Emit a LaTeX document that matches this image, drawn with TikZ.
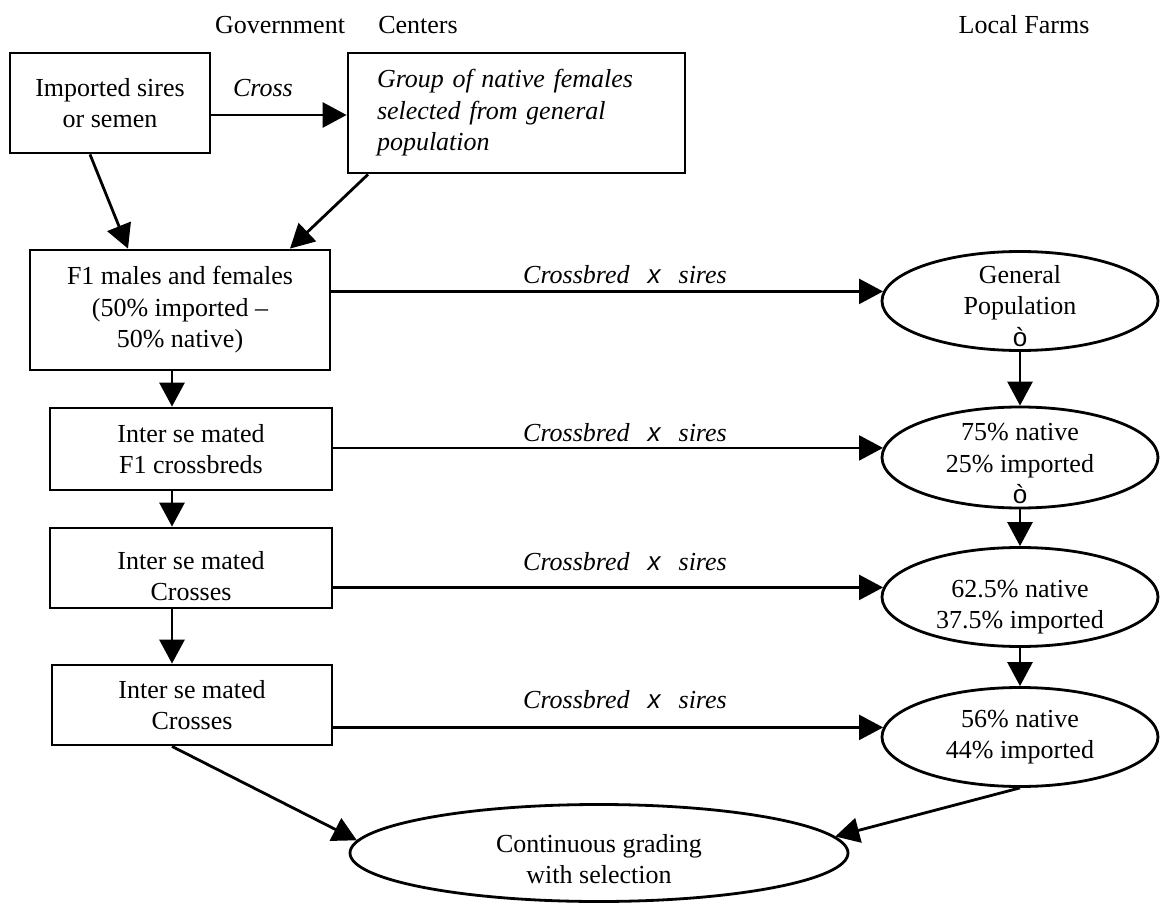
\documentclass[tikz,border=0pt]{standalone}
\usepackage{fontspec}
\setmainfont{Liberation Serif}
\setsansfont{Liberation Sans}
\usetikzlibrary{arrows.meta,shapes.geometric}
\begin{document}
\begin{tikzpicture}[x=1pt,y=-1pt,
  every node/.style={font=\fontsize{26}{31.5}\selectfont},
  lab/.style={font=\fontsize{26}{31.5}\selectfont\itshape},
  box/.style={draw,line width=2.8pt,align=center,inner sep=0pt},
  oval/.style={draw,ellipse,line width=2.8pt,inner sep=0pt,minimum width=276pt,minimum height=99pt},
  arr/.style={line width=2.8pt,-{Triangle[length=24pt,width=25pt]}},
  crs/.style={line width=2.3pt,-{Triangle[length=24pt,width=25pt]}}]
\useasboundingbox (0,0) rectangle (1160,904);

\node at (280,25) {Government};
\node at (418,25) {Centers};
\node at (1024,25) {Local Farms};

\node [box,minimum width=200pt,minimum height=100pt] (imp) at (110,103) {Imported sires\\or semen};
\node [box,lab,align=left,text width=279pt,inner xsep=29pt,minimum height=120pt] (grp) at (516.5,113) {Group of native females\\selected from general\\population};
\node [box,minimum width=300pt,minimum height=120pt] (f1) at (180,310) {F1 males and females\\(50\% imported --\\50\% native)};
\node [box,minimum width=282pt,minimum height=82pt] (int1) at (191,449) {Inter se mated\\F1 crossbreds};
\node [box,minimum width=282pt,minimum height=80pt,label={[align=center,yshift=-8pt]center:Inter se mated\\Crosses}] (int2) at (191,568) {};
\node [box,minimum width=280pt,minimum height=80pt] (int3) at (192,705) {Inter se mated\\Crosses};

\node [oval,label={[align=center,yshift=-5pt]center:General\\Population\\{\sffamily ò}}] (gen) at (1020,301) {};
\node [oval,minimum height=101pt,label={[align=center,yshift=-6pt]center:75\% native\\25\% imported\\{\sffamily ò}}] (n75) at (1020,457.5) {};
\node [oval,label={[align=center,yshift=-10pt]center:62.5\% native\\37.5\% imported}] (n62) at (1020,597) {};
\node [oval,label={[align=center]center:56\% native\\44\% imported}] (n56) at (1020,737) {};
\node [oval,minimum width=498pt,minimum height=97pt,label={[align=center,yshift=-6pt]center:Continuous grading\\with selection}] (cont) at (599,853) {};

\node [lab] at (263,88) {Cross};
\node [lab] at (625,275) {Crossbred\hspace{18pt}{\sffamily x}\hspace{18pt}sires};
\node [lab] at (625,433) {Crossbred\hspace{18pt}{\sffamily x}\hspace{18pt}sires};
\node [lab] at (625,562) {Crossbred\hspace{18pt}{\sffamily x}\hspace{18pt}sires};
\node [lab] at (625,700) {Crossbred\hspace{18pt}{\sffamily x}\hspace{18pt}sires};

\draw [arr] (imp.east |- 0,115) -- (grp.west |- 0,115);
\draw [arr] (imp.south -| 90,0) -- (f1.north -| 128,0);
\draw [arr] (grp.south -| 368,0) -- (f1.north -| 290,0);
\draw [arr] (f1.south -| 172,0) -- (int1.north -| 172,0);
\draw [arr] (int1.south -| 172,0) -- (int2.north -| 172,0);
\draw [arr] (int2.south -| 172,0) -- (int3.north -| 172,0);
\draw [arr] (int3.south -| 172,0) -- (cont.177);

\draw [crs] (f1.east |- gen.176) -- (gen.176);
\draw [crs] (int1.east |- n75.176) -- (n75.176);
\draw [crs] (int2.east |- n62.176) -- (n62.176);
\draw [crs] (int3.east |- n56.176) -- (n56.176);

\draw [arr] (gen) -- (n75);
\draw [arr] (n75) -- (n62);
\draw [arr] (n62) -- (n56);
\draw [arr] (n56.south) -- (cont.4);
\end{tikzpicture}
\end{document}
